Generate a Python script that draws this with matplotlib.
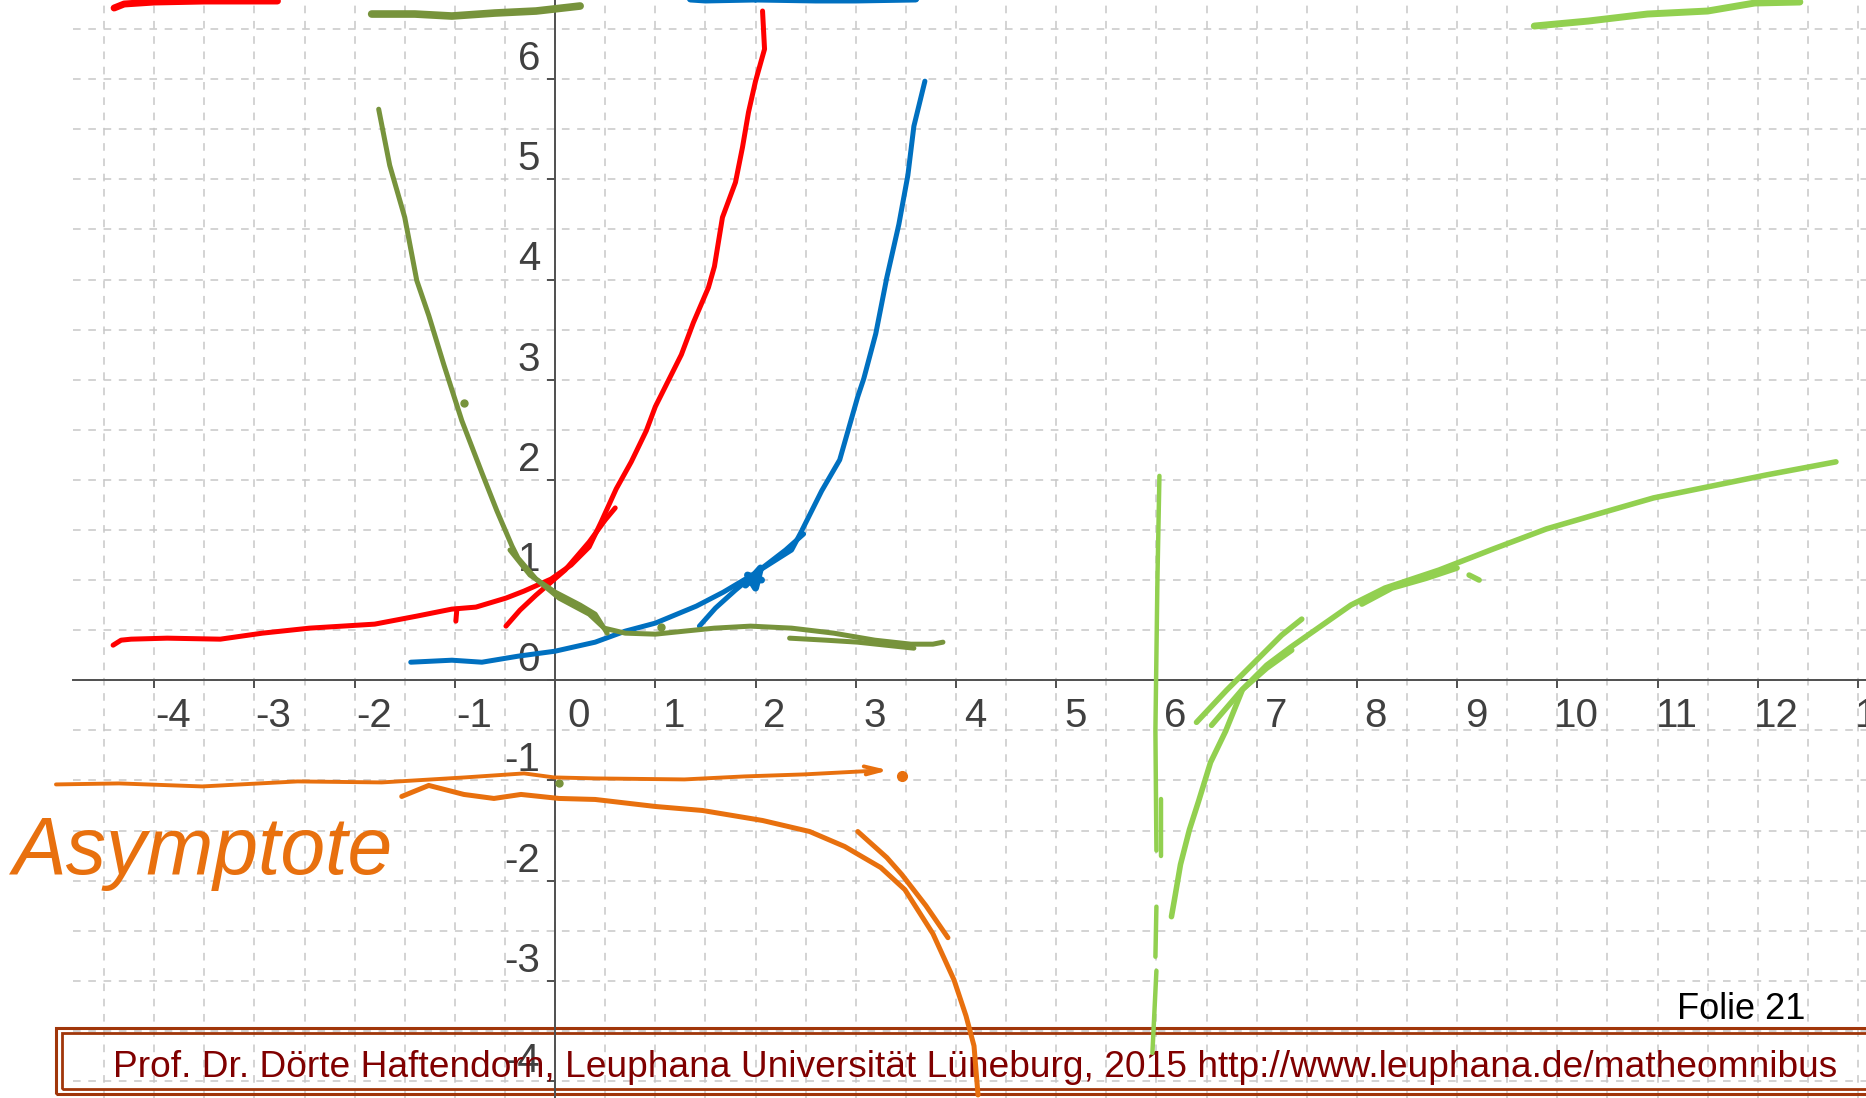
import matplotlib.pyplot as plt
import numpy as np
from matplotlib.patches import Rectangle

# Achsen-Beschriftung
x_werte = list(range(-4, 14))
y_werte = list(range(-4, 7))

# rote Kurve (steigend) und Nebenstriche
rot_x = [-4.41, -4.33, -4.23, -3.87, -3.34, -2.92, -2.45, -1.80, -1.38, -1.03, -0.79, -0.49, -0.31, -0.04,
         0.16, 0.34, 0.46, 0.61, 0.76, 0.91, 1.00, 1.26, 1.38, 1.53, 1.59, 1.67, 1.80, 1.87, 1.93, 2.00, 2.09, 2.07]
rot_y = [0.35, 0.40, 0.41, 0.42, 0.41, 0.47, 0.52, 0.56, 0.64, 0.71, 0.73, 0.82, 0.89, 1.01,
         1.15, 1.33, 1.58, 1.91, 2.18, 2.49, 2.73, 3.25, 3.57, 3.92, 4.13, 4.62, 4.97, 5.32, 5.67, 5.98, 6.30, 6.68]
rot2_x = [-0.49, -0.35, -0.19, 0.10, 0.34, 0.50, 0.60]
rot2_y = [0.54, 0.70, 0.85, 1.10, 1.38, 1.60, 1.72]
rot3_x = [-0.98, -0.99]
rot3_y = [0.71, 0.59]
rot_oben_x = [-4.40, -4.30, -4.0, -3.5, -3.0, -2.77]
rot_oben_y = [6.71, 6.75, 6.77, 6.78, 6.78, 6.78]

# blaue Kurve
blau_x = [-1.44, -1.03, -0.73, -0.37, 0.0, 0.40, 0.70, 1.0, 1.41, 1.68, 1.95, 2.36, 2.45, 2.66, 2.84,
          3.02, 3.08, 3.20, 3.31, 3.43, 3.52, 3.58, 3.69]
blau_y = [0.18, 0.20, 0.18, 0.24, 0.29, 0.38, 0.49, 0.57, 0.74, 0.88, 1.04, 1.30, 1.47, 1.89, 2.20,
          2.83, 3.01, 3.46, 4.02, 4.55, 5.04, 5.53, 5.98]
blau2_x = [1.44, 1.60, 1.80, 2.04, 2.30, 2.48]
blau2_y = [0.54, 0.72, 0.90, 1.10, 1.30, 1.46]
blau3_x = [1.90, 2.05, 2.00, 1.92, 2.06]
blau3_y = [0.95, 1.12, 0.92, 1.05, 1.00]
blau_oben_x = [1.35, 1.5, 2.0, 2.6, 3.0, 3.6]
blau_oben_y = [6.80, 6.79, 6.80, 6.79, 6.79, 6.80]

# olivgruene Kurve
oliv_x = [-1.76, -1.65, -1.50, -1.38, -1.26, -1.11, -0.93, -0.73, -0.58, -0.43, -0.37, -0.19, 0.04, 0.34,
          0.49, 0.70, 1.0, 1.29, 1.59, 1.95, 2.36, 2.78, 3.19, 3.55, 3.77, 3.87]
oliv_y = [5.70, 5.14, 4.62, 3.99, 3.64, 3.15, 2.59, 2.07, 1.69, 1.34, 1.22, 1.01, 0.82, 0.66,
          0.52, 0.47, 0.46, 0.49, 0.52, 0.54, 0.52, 0.47, 0.40, 0.36, 0.36, 0.38]
oliv2_x = [-0.45, -0.25, 0.0, 0.25, 0.40, 0.52]
oliv2_y = [1.30, 1.05, 0.88, 0.75, 0.66, 0.47]
oliv3_x = [2.34, 2.70, 3.02, 3.30, 3.58]
oliv3_y = [0.42, 0.40, 0.38, 0.35, 0.32]
oliv_punkte_x = [-0.91, 1.06, 0.04]
oliv_punkte_y = [2.77, 0.53, -1.03]
oliv_oben_x = [-1.83, -1.4, -1.03, -0.6, -0.19, 0.25]
oliv_oben_y = [6.65, 6.65, 6.63, 6.66, 6.68, 6.73]

# orange: Asymptote und Kurve
asym_x = [-4.98, -4.35, -3.52, -2.57, -1.73, -0.90, -0.31, -0.01, 0.40, 1.29, 1.89, 2.48, 3.25]
asym_y = [-1.04, -1.03, -1.06, -1.01, -1.02, -0.97, -0.93, -0.97, -0.98, -0.99, -0.96, -0.94, -0.90]
pfeil_x = [3.08, 3.25, 3.10]
pfeil_y = [-0.86, -0.90, -0.94]
orange_x = [-1.53, -1.26, -0.91, -0.61, -0.34, 0.04, 0.40, 1.0, 1.47, 2.07, 2.54, 2.89, 3.25, 3.49,
            3.77, 3.98, 4.10, 4.18, 4.22]
orange_y = [-1.16, -1.05, -1.14, -1.18, -1.14, -1.18, -1.19, -1.26, -1.30, -1.40, -1.51, -1.66, -1.87, -2.09,
            -2.53, -2.99, -3.35, -3.65, -4.14]
orange2_x = [3.02, 3.31, 3.46, 3.70, 3.92]
orange2_y = [-1.51, -1.77, -1.94, -2.25, -2.57]
orange_oben_x = [7.9, 8.1, 8.4]
orange_oben_y = [6.81, 6.80, 6.81]

# hellgruen: senkrechte Asymptote und Log-Kurve
senk_x = [[6.03, 6.01, 5.99, 6.00], [6.05, 6.05], [6.00, 5.99], [6.00, 5.96]]
senk_y = [[2.04, 1.0, -0.5, -1.70], [-1.19, -1.75], [-2.26, -2.76], [-2.90, -3.72]]
log_x = [6.15, 6.18, 6.24, 6.33, 6.42, 6.54, 6.69, 6.86, 7.10, 7.34, 7.64, 7.94, 8.28, 8.82, 9.36,
         9.89, 10.37, 10.96, 11.5, 12.09, 12.78]
log_y = [-2.36, -2.19, -1.84, -1.49, -1.21, -0.82, -0.51, -0.09, 0.15, 0.33, 0.54, 0.75, 0.92, 1.10, 1.31,
         1.51, 1.65, 1.82, 1.93, 2.05, 2.18]
log_extra_x = [[6.40, 6.70, 7.00, 7.25, 7.45], [6.55, 6.85, 7.10, 7.35], [8.05, 8.35, 8.70, 9.00], [9.12, 9.22]]
log_extra_y = [[-0.42, -0.10, 0.20, 0.45, 0.61], [-0.45, -0.10, 0.12, 0.30], [0.76, 0.92, 1.02, 1.12], [1.05, 1.00]]
gruen_oben_x = [9.77, 10.31, 10.90, 11.50, 11.97, 12.42]
gruen_oben_y = [6.53, 6.58, 6.65, 6.68, 6.76, 6.77]

ROT = '#ff0000'
BLAU = '#0070c0'
OLIV = '#77933c'
ORANGE = '#e8700e'
HELLGRUEN = '#92d050'
ACHSE = '#505050'
LW = 3.6

fig = plt.figure(figsize=(18.66, 10.98), dpi=100)
ax = fig.add_axes([73 / 1866, 0, 1 - 73 / 1866, 1])

# Gitter und Achsen durch den Ursprung
ax.set_xticks(x_werte)
ax.set_yticks(y_werte)
ax.set_xticks(np.arange(-4.5, 13.5, 1.0), minor=True)
ax.set_yticks(np.arange(-4.5, 7.0, 1.0), minor=True)
# Grenzen erst nach den Ticks setzen, sonst wird der Bereich erweitert
ax.set_xlim(-4.81, 13.08)
ax.set_ylim(-4.17, 6.79)
ax.grid(which='both', color='#c8c8c8', linestyle=(0, (5, 5)), linewidth=1.1, zorder=0)
ax.set_axisbelow(True)
for s in ['top', 'right']:
    ax.spines[s].set_visible(False)
ax.spines['left'].set_position(('data', 0))
ax.spines['bottom'].set_position(('data', 0))
for s in ['left', 'bottom']:
    ax.spines[s].set_color(ACHSE)
    ax.spines[s].set_linewidth(1.4)
ax.tick_params(which='major', direction='out', length=6, width=1.4, color=ACHSE,
               labelbottom=False, labelleft=False)
ax.tick_params(which='minor', length=0)

for xv in x_werte:
    dx = 0.23 if xv == 0 else 0.19
    ax.text(xv + dx, -0.36, str(xv), ha='center', va='center', fontsize=29,
            family='Liberation Sans', color='#404040', zorder=1)
for yv in y_werte:
    ax.text(-0.15, yv + 0.2, str(yv), ha='right', va='center', fontsize=29,
            family='Liberation Sans', color='#404040', zorder=1)

# Fusszeile
blatt = fig.transFigure
ax.add_patch(Rectangle((56 / 1866, 1 - 1094 / 1098), 1.0, 66 / 1098, transform=blatt,
                       fill=False, edgecolor='#a0360a', linewidth=2.2, clip_on=False, zorder=1.5))
ax.add_patch(Rectangle((62 / 1866, 1 - 1089 / 1098), 1.0, 56 / 1098, transform=blatt,
                       fill=False, edgecolor='#a0360a', linewidth=2.0, clip_on=False, zorder=1.5))
fuss = ax.text(113 / 1866, 1 - 1077 / 1098,
               'Prof. Dr. Dörte Haftendorn, Leuphana Universität Lüneburg, 2015 http://www.leuphana.de/matheomnibus',
               transform=blatt, ha='left', va='baseline', fontsize=26, family='Liberation Sans',
               color='#800000', clip_on=False, zorder=1.6)
ax.text(1805 / 1866, 1 - 1019 / 1098, 'Folie 21', transform=blatt, ha='right', va='baseline',
        fontsize=26, family='Liberation Sans', color='black', clip_on=False, zorder=1.6)

# handschriftliche Striche
ax.plot(rot_x, rot_y, color=ROT, lw=LW, solid_capstyle='round', zorder=3)
ax.plot(rot2_x, rot2_y, color=ROT, lw=LW, solid_capstyle='round', zorder=3)
ax.plot(rot3_x, rot3_y, color=ROT, lw=LW, solid_capstyle='round', zorder=3)
ax.plot(rot_oben_x, rot_oben_y, color=ROT, lw=5, solid_capstyle='round', zorder=3)

ax.plot(blau_x, blau_y, color=BLAU, lw=LW, solid_capstyle='round', zorder=3)
ax.plot(blau2_x, blau2_y, color=BLAU, lw=LW, solid_capstyle='round', zorder=3)
ax.plot(blau3_x, blau3_y, color=BLAU, lw=5, solid_capstyle='round', zorder=3)
ax.plot(blau_oben_x, blau_oben_y, color=BLAU, lw=5, solid_capstyle='round', zorder=3)

ax.plot(oliv_x, oliv_y, color=OLIV, lw=LW, solid_capstyle='round', zorder=3)
ax.plot(oliv2_x, oliv2_y, color=OLIV, lw=LW, solid_capstyle='round', zorder=3)
ax.plot(oliv3_x, oliv3_y, color=OLIV, lw=LW, solid_capstyle='round', zorder=3)
ax.plot(oliv_punkte_x, oliv_punkte_y, 'o', color=OLIV, ms=5, zorder=3)
ax.plot(oliv_oben_x, oliv_oben_y, color=OLIV, lw=5.5, solid_capstyle='round', zorder=3)

ax.plot(asym_x, asym_y, color=ORANGE, lw=2.8, solid_capstyle='round', clip_on=False, zorder=3)
ax.plot(pfeil_x, pfeil_y, color=ORANGE, lw=2.8, solid_capstyle='round', zorder=3)
ax.plot([3.46], [-0.96], 'o', color=ORANGE, ms=7, zorder=3)
ax.plot(orange_x, orange_y, color=ORANGE, lw=LW, solid_capstyle='round', zorder=3)
ax.plot(orange2_x, orange2_y, color=ORANGE, lw=LW, solid_capstyle='round', zorder=3)
ax.plot(orange_oben_x, orange_oben_y, color=ORANGE, lw=5, solid_capstyle='round', zorder=3)

for sx, sy in zip(senk_x, senk_y):
    ax.plot(sx, sy, color=HELLGRUEN, lw=3.2, solid_capstyle='round', zorder=3)
ax.plot(log_x, log_y, color=HELLGRUEN, lw=4.0, solid_capstyle='round', zorder=3)
for sx, sy in zip(log_extra_x, log_extra_y):
    ax.plot(sx, sy, color=HELLGRUEN, lw=4.0, solid_capstyle='round', zorder=3)
ax.plot(gruen_oben_x, gruen_oben_y, color=HELLGRUEN, lw=5, solid_capstyle='round', zorder=3)

ax.text(-5.41, -1.93, 'Asymptote', ha='left', va='baseline', fontsize=58, style='italic',
        family='Liberation Sans', color=ORANGE, clip_on=False, zorder=3)

# Fusszeile auf die Breite der Vorlage bringen
fig.canvas.draw()
breite = fuss.get_window_extent().width
fuss.set_fontsize(26 * 1723 / breite)

fig.savefig('out.png', dpi=100)
